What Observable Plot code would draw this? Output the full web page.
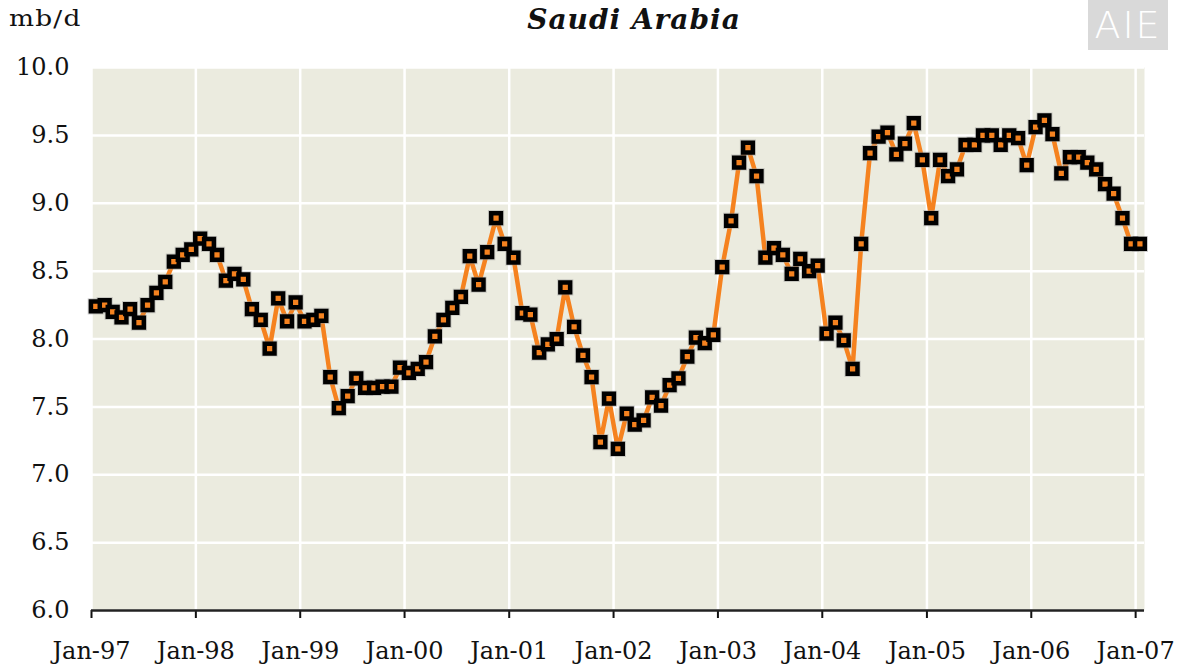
<!DOCTYPE html>
<html><head><meta charset="utf-8">
<script src="https://cdn.jsdelivr.net/npm/d3@7"></script>
<script src="https://cdn.jsdelivr.net/npm/@observablehq/plot@0.6"></script>
<style>
body{margin:0;background:#fff;}
#wrap{position:relative;width:1186px;height:669px;font-family:"DejaVu Serif",serif;color:#111;}
#title{position:absolute;left:534px;width:200px;top:3px;text-align:center;font-weight:bold;font-style:italic;font-size:28px;letter-spacing:1px;white-space:nowrap;display:flex;justify-content:center;}
#unit{position:absolute;left:9px;top:6px;font-size:22px;letter-spacing:1px;transform:scaleX(1.2);transform-origin:left top;}
#logo{position:absolute;left:1088px;top:0;width:80px;height:50px;background:#d9d9d9;color:#fff;font-family:"DejaVu Sans",sans-serif;font-size:38px;font-weight:200;line-height:50px;text-align:center;letter-spacing:2px;}
#chart{position:absolute;left:0;top:0;}
</style></head>
<body>
<div id="wrap">
<div id="chart"></div>
<div id="unit">mb/d</div>
<div id="title">Saudi Arabia</div>
<div id="logo">AIE</div>
</div>
<script>
const startYear = 1997;
const values = [
 8.24, 8.25, 8.20, 8.16, 8.22, 8.12, 8.25, 8.34, 8.42, 8.57, 8.62, 8.66,
 8.74, 8.70, 8.62, 8.43, 8.48, 8.44, 8.22, 8.14, 7.93, 8.30, 8.13, 8.27,
 8.13, 8.14, 8.17, 7.72, 7.49, 7.58, 7.71, 7.64, 7.64, 7.65, 7.65, 7.79,
 7.75, 7.78, 7.83, 8.02, 8.14, 8.23, 8.31, 8.61, 8.40, 8.64, 8.89, 8.70,
 8.60, 8.19, 8.18, 7.90, 7.96, 8.00, 8.38, 8.09, 7.88, 7.72, 7.24, 7.56,
 7.19, 7.45, 7.37, 7.40, 7.57, 7.51, 7.66, 7.71, 7.87, 8.01, 7.97, 8.03,
 8.53, 8.87, 9.30, 9.41, 9.20, 8.60, 8.67, 8.62, 8.48, 8.59, 8.50, 8.54,
 8.04, 8.12, 7.99, 7.78, 8.70, 9.37, 9.49, 9.52, 9.36, 9.44, 9.59, 9.32,
 8.89, 9.32, 9.20, 9.25, 9.43, 9.43, 9.50, 9.50, 9.43, 9.50, 9.48, 9.28,
 9.56, 9.61, 9.51, 9.22, 9.34, 9.34, 9.30, 9.25, 9.14, 9.07, 8.89, 8.70,
 8.70
];
const tickLabels = ["Jan-97","Jan-98","Jan-99","Jan-00","Jan-01","Jan-02","Jan-03","Jan-04","Jan-05","Jan-06","Jan-07"];
const yTicks = [6.0, 6.5, 7.0, 7.5, 8.0, 8.5, 9.0, 9.5, 10.0];

const data = values.map((v, i) => ({date: new Date(Date.UTC(startYear, i, 16)), value: v}));
const tickDates = tickLabels.map((_, k) => new Date(Date.UTC(startYear + k, 0, 1)));
const orange = "#f5821f";

const chart = Plot.plot({
  width: 1186, height: 669,
  marginTop: 67, marginLeft: 91, marginRight: 42, marginBottom: 59,
  style: {fontFamily: "DejaVu Serif, serif", fontSize: "24px", color: "#111", background: "transparent", overflow: "visible"},
  x: {type: "utc", domain: [new Date(Date.UTC(1997, 0, 1)), new Date(Date.UTC(2007, 1, 1))]},
  y: {domain: [6, 10]},
  marks: [
    Plot.frame({fill: "#ebebdf", stroke: null}),
    Plot.gridY(yTicks, {stroke: "#fff", strokeOpacity: 1, strokeWidth: 2.5}),
    Plot.gridX(tickDates, {stroke: "#fff", strokeOpacity: 1, strokeWidth: 2.5}),
    Plot.axisY(yTicks, {tickSize: 0, tickPadding: 22, tickFormat: d3.format(".1f"), label: null, fontSize: 24, letterSpacing: -1.5}),
    Plot.axisX(tickDates, {tickSize: 8, tickPadding: 23, strokeWidth: 2, tickFormat: d => tickLabels[d.getUTCFullYear() - startYear], label: null, fontSize: 24}),
    Plot.ruleY([6], {stroke: "#222", strokeWidth: 2.5}),
    Plot.line(data, {x: "date", y: "value", stroke: orange, strokeWidth: 4.5}),
    Plot.dot(data, {x: "date", y: "value", symbol: "square", r: 6, fill: "none", stroke: "#999", strokeOpacity: 0.45, strokeWidth: 5.5}),
    Plot.dot(data, {x: "date", y: "value", symbol: "square", r: 5.5, fill: orange, stroke: "#000", strokeWidth: 4.5})
  ]
});
document.getElementById("chart").appendChild(chart);
</script>
</body></html>
